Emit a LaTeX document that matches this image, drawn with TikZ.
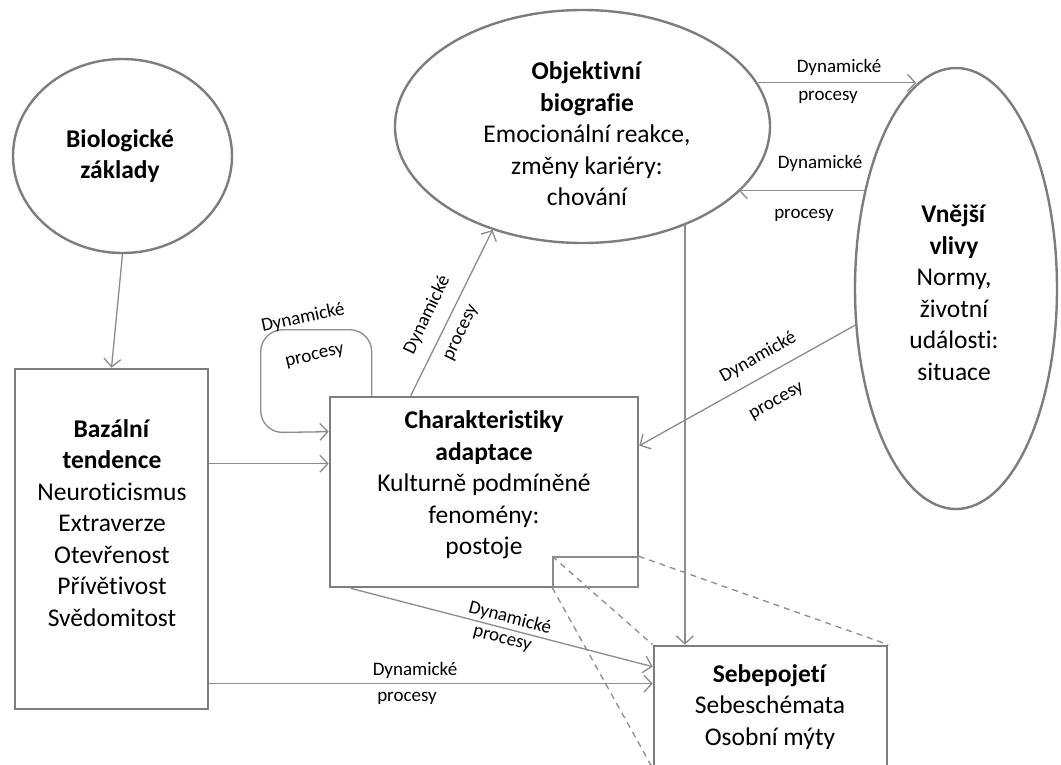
\documentclass[tikz,border=0pt]{standalone}
\usepackage{fontspec}
\setmainfont{Carlito}[Ligatures=NoCommon]
\usetikzlibrary{arrows.meta,shapes.geometric,calc}
\definecolor{boxgray}{RGB}{125,125,125}
\definecolor{lngray}{RGB}{140,140,140}
\tikzset{
  boxnode/.style={draw=boxgray, line width=2.6pt, inner sep=0pt},
  ellnode/.style={ellipse, draw=boxgray, line width=2.4pt, inner sep=0pt},
  conn/.style={draw=lngray, line width=1.3pt},
  arr/.style={conn, -{Straight Barb[length=8pt,width=17pt,line width=1.3pt]}},
  dashline/.style={draw=lngray, line width=1.3pt, dash pattern=on 6pt off 5pt},
  maintext/.style={align=center, inner sep=0pt, font=\fontsize{25.5}{31.5}\selectfont},
  lbl/.style={inner sep=0pt, font=\fontsize{19}{22}\selectfont},
}
\begin{document}
\begin{tikzpicture}[x=1pt,y=-1pt]
\useasboundingbox[fill=white] (0,0) rectangle (1061,764);

% shapes
\node[ellnode, minimum width=219pt, minimum height=194pt] (bio) at (122.5,156) {};
\node[ellnode, minimum width=375pt, minimum height=233pt] (obj) at (582.5,126.5) {};
\node[ellnode, minimum width=202pt, minimum height=441pt] (vne) at (956,288.5) {};
\node[boxnode, minimum width=193pt, minimum height=340pt] (baz) at (111.5,539) {};
\node[boxnode, minimum width=308pt, minimum height=190pt] (char) at (484,492) {};
\node[draw=lngray, line width=1.5pt, inner sep=0pt, minimum width=85pt, minimum height=30pt] (small) at (595.5,572) {};
\node[boxnode, minimum width=233pt, minimum height=121pt] (seb) at (770.5,706.5) {};

% texts
\node[maintext] (bioT) at (120,156) {\textbf{Biologické}\\\textbf{základy}};
\node[maintext] (objT) at (587,134) {\textbf{Objektivní}\\\textbf{biografie}\\Emocionální reakce,\\změny kariéry:\\chování};
\node[maintext] (vneT) at (954,292.5) {\textbf{Vnější}\\\textbf{vlivy}\\Normy,\\životní\\události:\\situace};
\node[maintext] (bazT) at (112,523) {\textbf{Bazální}\\\textbf{tendence}\\Neuroticismus\\Extraverze\\Otevřenost\\Přívětivost\\Svědomitost};
\node[maintext] (charT) at (484,485) {\textbf{Charakteristiky}\\\textbf{adaptace}\\Kulturně podmíněné\\fenomény:\\postoje};
\node[maintext] (sebT) at (770,707) {\textbf{Sebepojetí}\\Sebeschémata\\Osobní mýty};

% helper coordinates on borders
\coordinate (charIn1) at ([yshift=-68pt]char.north west);
\coordinate (charIn2) at ([yshift=-36pt]char.north west);
\coordinate (charTop1) at ([xshift=43pt]char.north west);
\coordinate (charTop2) at ([xshift=82pt]char.north west);
\coordinate (charIn3) at ([yshift=-50pt]char.north east);
\coordinate (charBot) at ([xshift=22pt]char.south west);
\coordinate (sebIn1) at ([yshift=-22pt]seb.north west);
\coordinate (sebIn2) at ([yshift=-39pt]seb.north west);

% connectors
\draw[arr] (bio.south) -- (baz.north);
\draw[arr] (baz.east |- charIn1) -- (charIn1);
\draw[arr, rounded corners=22pt] (charTop1) -- ++(0,-66) -- ++(-111,0) -- ++(0,103) -- (charIn2);
\draw[arr] (charTop2) -- (obj.229);
\draw[arr] (obj.14) -- (vne.101.6 |- obj.14);
\draw[arr] (vne.133.8) -- (obj.-23 |- vne.133.8);
\draw[arr] (obj.-44.7) -- (obj.-44.7 |- seb.north);
\draw[arr] (vne.200.3) -- (charIn3);
\draw[arr] (charBot) -- (sebIn1);
\draw[arr] (baz.east |- sebIn2) -- (sebIn2);

% dashed callout lines
\draw[dashline] (small.north west) -- (seb.north west);
\draw[dashline] (small.south west) -- (seb.south west);
\draw[dashline] (small.north east) -- (seb.north east);

% labels
\node[lbl] (l1a) at (839,67) {Dynamické};
\node[lbl] (l1b) at (828,97) {procesy};
\node[lbl] (l2a) at (820,163) {Dynamické};
\node[lbl] (l2b) at (804,215) {procesy};
\node[lbl, rotate=29.5] (l3a) at (758,357) {Dynamické};
\node[lbl, rotate=29.5] (l3b) at (777,402) {procesy};
\node[lbl, rotate=64.3] (l4a) at (427,315) {Dynamické};
\node[lbl, rotate=64.3] (l4b) at (462,333) {procesy};
\node[lbl, rotate=12] (l5a) at (303,318) {Dynamické};
\node[lbl, rotate=13] (l5b) at (315,357) {procesy};
\node[lbl, rotate=-14.6] (l6a) at (510,618) {Dynamické};
\node[lbl, rotate=-14.6] (l6b) at (502,640) {procesy};
\node[lbl] (l7a) at (415,670) {Dynamické};
\node[lbl] (l7b) at (407,698) {procesy};
\end{tikzpicture}
\end{document}
